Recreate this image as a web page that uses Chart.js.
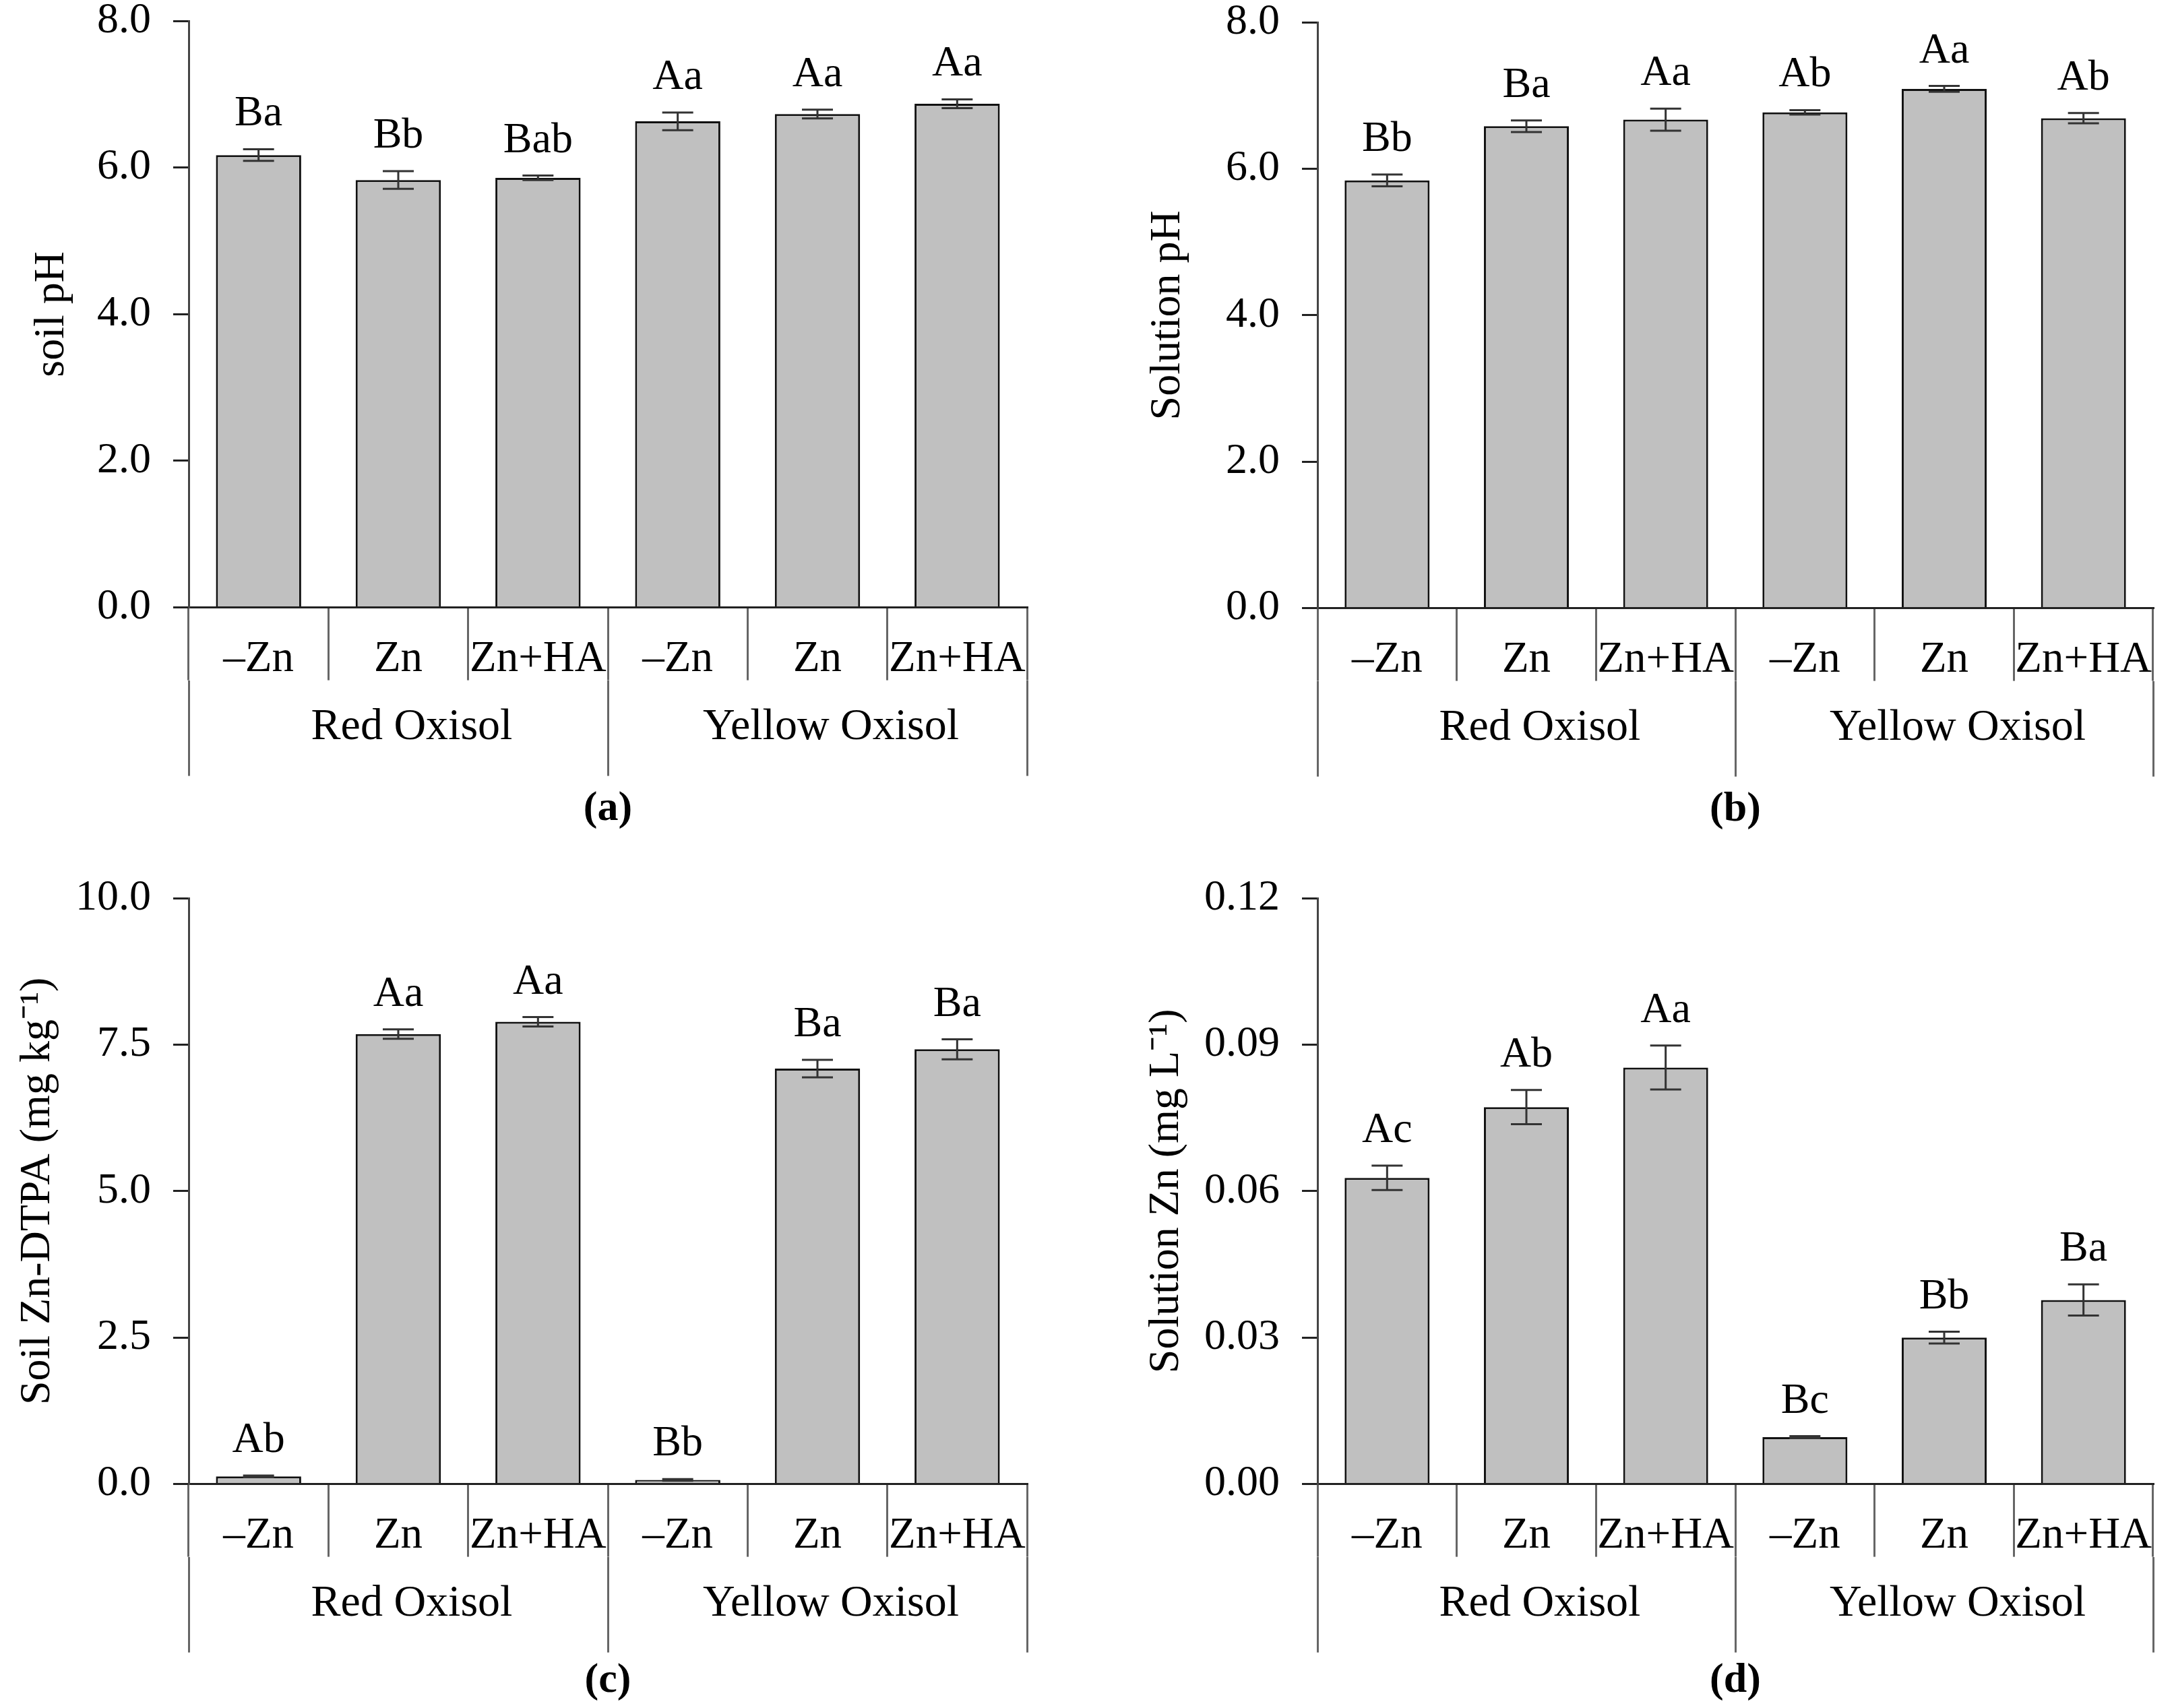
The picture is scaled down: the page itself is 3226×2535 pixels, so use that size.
<!DOCTYPE html>
<html>
<head>
<meta charset="utf-8">
<script src="https://cdn.jsdelivr.net/npm/chart.js@4"></script>
<style>
  html, body { margin: 0; padding: 0; background: #fff; }
  body { width: 3226px; height: 2535px; position: relative; overflow: hidden; }
  canvas { position: absolute; }
</style>
</head>
<body>
<canvas id="chartA" width="1613" height="1307" style="left:0px;top:-40px"></canvas>
<canvas id="chartB" width="1613" height="1307" style="left:1613px;top:-40px"></canvas>
<canvas id="chartC" width="1613" height="1268" style="left:0px;top:1267px"></canvas>
<canvas id="chartD" width="1613" height="1268" style="left:1613px;top:1267px"></canvas>
<script>
// categories
const treatments = ['–Zn', 'Zn', 'Zn+HA', '–Zn', 'Zn', 'Zn+HA'];
const soils = ['Red Oxisol', 'Yellow Oxisol'];

// (a) soil pH
const soilPH = [6.17, 5.83, 5.86, 6.63, 6.73, 6.87];
const soilPHErr = [0.08, 0.12, 0.03, 0.12, 0.06, 0.06];
const soilPHLetters = ['Ba', 'Bb', 'Bab', 'Aa', 'Aa', 'Aa'];

// (b) solution pH
const solPH = [5.84, 6.58, 6.67, 6.77, 7.09, 6.69];
const solPHErr = [0.08, 0.08, 0.15, 0.03, 0.04, 0.07];
const solPHLetters = ['Bb', 'Ba', 'Aa', 'Ab', 'Aa', 'Ab'];

// (c) soil Zn-DTPA
const soilZn = [0.13, 7.68, 7.89, 0.07, 7.09, 7.42];
const soilZnErr = [0.015, 0.08, 0.08, 0.015, 0.15, 0.17];
const soilZnLetters = ['Ab', 'Aa', 'Aa', 'Bb', 'Ba', 'Ba'];

// (d) solution Zn
const solZn = [0.0627, 0.0772, 0.0853, 0.0096, 0.0300, 0.0377];
const solZnErr = [0.0025, 0.0035, 0.0045, 0.0002, 0.0012, 0.0032];
const solZnLetters = ['Ac', 'Ab', 'Aa', 'Bc', 'Bb', 'Ba'];

const FONT = 'Liberation Serif, Times New Roman, serif';

// error bars + significance letters
const errorBars = {
  id: 'errorBars',
  afterDatasetsDraw(chart) {
    const ctx = chart.ctx;
    const ds = chart.data.datasets[0];
    const meta = chart.getDatasetMeta(0);
    const y = chart.scales.y;
    ctx.save();
    meta.data.forEach((bar, i) => {
      const v = ds.data[i], e = ds.errors[i];
      const yt = y.getPixelForValue(v + e);
      const yb = y.getPixelForValue(v - e);
      ctx.strokeStyle = '#333';
      ctx.lineWidth = 3;
      ctx.beginPath();
      ctx.moveTo(bar.x, yt); ctx.lineTo(bar.x, yb);
      ctx.moveTo(bar.x - 23, yt); ctx.lineTo(bar.x + 23, yt);
      ctx.moveTo(bar.x - 23, yb); ctx.lineTo(bar.x + 23, yb);
      ctx.stroke();
      ctx.fillStyle = '#000';
      ctx.font = '64px ' + FONT;
      ctx.textAlign = 'center';
      ctx.textBaseline = 'alphabetic';
      ctx.fillText(ds.letters[i], bar.x, yt - 35);
    });
    ctx.restore();
  }
};

function makeChart(id, p) {
  return new Chart(document.getElementById(id), {
    type: 'bar',
    data: {
      labels: treatments,
      datasets: [{
        data: p.values,
        errors: p.errors,
        letters: p.letters,
        backgroundColor: '#c0c0c0',
        borderColor: '#111',
        borderWidth: 3,
        barPercentage: 0.61,
        categoryPercentage: 1
      }]
    },
    options: {
      responsive: false,
      animation: false,
      layout: { padding: { left: 0, right: p.padRight, top: p.padTop, bottom: p.padBottom } },
      plugins: {
        legend: { display: false },
        tooltip: { enabled: false },
        title: {
          display: true,
          position: 'bottom',
          fullSize: false,
          text: p.tag,
          color: '#000',
          font: { family: FONT, size: 62, weight: 'bold', lineHeight: 1.2 },
          padding: { top: p.tagPad, bottom: 0 }
        }
      },
      scales: {
        x: {
          position: 'bottom',
          offset: true,
          grid: { offset: true, drawOnChartArea: false, drawTicks: true, tickLength: 108, color: '#666', lineWidth: 3 },
          border: { display: true, color: '#222', width: 3 },
          ticks: { padding: -70, color: '#000', autoSkip: false, maxRotation: 0, font: { family: FONT, size: 65 } },
          afterFit: s => { s.height = 108; }
        },
        x2: {
          type: 'category',
          labels: soils,
          position: 'bottom',
          offset: true,
          grid: { offset: true, drawOnChartArea: false, drawTicks: true, tickLength: 142, color: '#666', lineWidth: 3 },
          border: { display: false },
          ticks: { padding: -112, labelOffset: 20, color: '#000', autoSkip: false, maxRotation: 0, font: { family: FONT, size: 66 } },
          afterFit: s => { s.height = 142; }
        },
        y: {
          min: 0,
          max: p.max,
          ticks: {
            stepSize: p.step,
            padding: 33,
            color: '#000',
            font: { family: FONT, size: 64, lineHeight: 0.9 },
            callback: v => Number(v).toFixed(p.decimals)
          },
          grid: { drawOnChartArea: false, drawTicks: true, tickLength: 23, color: '#222', lineWidth: 3 },
          border: { display: true, color: '#444', width: 3 },
          title: {
            display: true,
            text: p.yTitle,
            color: '#000',
            font: { family: FONT, size: 64, lineHeight: 1.2 },
            padding: { top: p.titlePad, bottom: 0 }
          },
          afterFit: s => { s.width = p.yWidth; }
        }
      }
    },
    plugins: [errorBars]
  });
}

makeChart('chartA', {
  values: soilPH, errors: soilPHErr, letters: soilPHLetters,
  max: 8, step: 2, decimals: 1, yTitle: 'soil pH', tag: '(a)',
  yWidth: 280, titlePad: 39, padTop: 71, padRight: 89, padBottom: 29, tagPad: 12
});
makeChart('chartB', {
  values: solPH, errors: solPHErr, letters: solPHLetters,
  max: 8, step: 2, decimals: 1, yTitle: 'Solution pH', tag: '(b)',
  yWidth: 342, titlePad: 82, padTop: 73, padRight: 31, padBottom: 28, tagPad: 12
});
makeChart('chartC', {
  values: soilZn, errors: soilZnErr, letters: soilZnLetters,
  max: 10, step: 2.5, decimals: 1, yTitle: 'Soil Zn-DTPA (mg kg⁻¹)', tag: '(c)',
  yWidth: 280, titlePad: 18, padTop: 66, padRight: 89, padBottom: 3, tagPad: 5
});
makeChart('chartD', {
  values: solZn, errors: solZnErr, letters: solZnLetters,
  max: 0.12, step: 0.03, decimals: 2, yTitle: 'Solution Zn (mg L⁻¹)', tag: '(d)',
  yWidth: 342, titlePad: 80, padTop: 66, padRight: 31, padBottom: 3, tagPad: 5
});
</script>
</body>
</html>
